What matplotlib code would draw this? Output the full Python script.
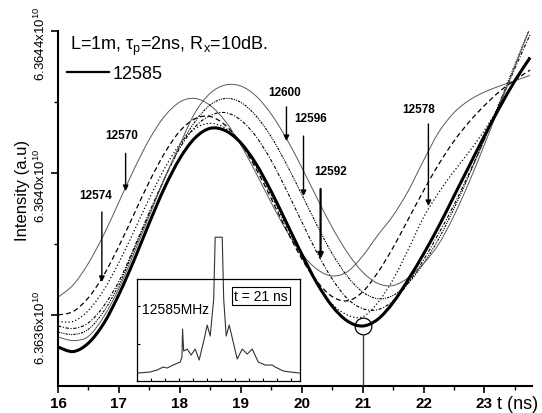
import matplotlib
matplotlib.use('Agg')
import matplotlib.pyplot as plt
from matplotlib.ticker import MultipleLocator, FixedLocator
from matplotlib.path import Path
from matplotlib.patches import PathPatch
from matplotlib.lines import Line2D
from matplotlib.transforms import ScaledTranslation

plt.rcParams['font.family'] = 'Liberation Sans'
plt.rcParams['mathtext.fontset'] = 'custom'
plt.rcParams['mathtext.rm'] = 'Liberation Sans'
plt.rcParams['mathtext.it'] = 'Liberation Sans:italic'
plt.rcParams['mathtext.bf'] = 'Liberation Sans:bold'

# time axis (ns)
t_ns = [16.0, 16.25, 16.5, 16.75, 17.0, 17.25, 17.5, 17.75, 18.0, 18.25, 18.5, 18.75,
        19.0, 19.25, 19.5, 19.75, 20.0, 20.25, 20.5, 20.75, 21.0, 21.25, 21.5, 21.75,
        22.0, 22.25, 22.5, 22.75, 23.0, 23.25, 23.5, 23.75]

# intensity above 6.3634x10^10, in units of 10^6
i_12585 = [1.10, 0.97, 1.21, 1.76, 2.58, 3.55, 4.60, 5.59, 6.41, 6.99, 7.26, 7.19,
           6.85, 6.26, 5.48, 4.60, 3.72, 2.90, 2.25, 1.83, 1.69, 1.88, 2.35, 3.00,
           3.72, 4.50, 5.35, 6.20, 7.05, 7.85, 8.60, 9.25]
i_12570 = [2.50, 2.85, 3.46, 4.26, 5.18, 6.11, 6.95, 7.60, 8.00, 8.10, 7.90, 7.45,
           6.79, 6.00, 5.16, 4.38, 3.73, 3.29, 3.10, 3.22, 3.66, 4.25, 4.80, 5.50,
           6.35, 7.15, 7.70, 8.05, 8.28, 8.45, 8.60, 8.75]
i_12574 = [2.00, 2.10, 2.49, 3.12, 3.94, 4.85, 5.76, 6.56, 7.18, 7.53, 7.59, 7.34,
           6.84, 6.12, 5.28, 4.40, 3.59, 2.95, 2.52, 2.40, 2.65, 3.20, 3.90, 4.70,
           5.50, 6.25, 6.90, 7.44, 7.90, 8.30, 8.62, 8.90]
i_12578 = [1.82, 1.82, 2.13, 2.70, 3.48, 4.37, 5.29, 6.13, 6.81, 7.25, 7.40, 7.26,
           6.84, 6.19, 5.37, 4.49, 3.63, 2.87, 2.31, 2.00, 1.95, 2.35, 3.00, 3.85,
           4.75, 5.45, 6.05, 6.60, 7.20, 7.90, 8.60, 9.30]
i_12592 = [1.69, 1.62, 1.78, 2.25, 2.95, 3.90, 4.90, 5.85, 6.70, 7.30, 7.62, 7.70,
           7.49, 7.03, 6.35, 5.52, 4.63, 3.76, 3.02, 2.46, 2.18, 2.15, 2.40, 2.90,
           3.55, 4.30, 5.10, 6.00, 6.95, 7.95, 8.95, 9.90]
i_12596 = [1.52, 1.45, 1.60, 2.10, 2.85, 3.85, 4.85, 5.85, 6.75, 7.45, 7.92, 8.10,
           7.99, 7.61, 7.02, 6.25, 5.40, 4.53, 3.73, 3.09, 2.65, 2.46, 2.55, 2.90,
           3.45, 4.15, 5.00, 5.95, 6.95, 8.00, 9.05, 10.10]
i_12600 = [1.38, 1.28, 1.40, 1.95, 2.75, 3.75, 4.80, 5.85, 6.80, 7.70, 8.25, 8.48,
           8.45, 8.17, 7.66, 6.97, 6.16, 5.30, 4.47, 3.76, 3.21, 2.89, 2.83, 3.05,
           3.45, 4.00, 4.80, 5.75, 6.80, 7.90, 9.00, 10.10]

# arrow labels
arrow_labels = ['12570', '12574', '12600', '12596', '12592', '12578']
label_x = [17.05, 16.62, 19.72, 20.15, 20.48, 21.92]
label_y = [7.07, 5.38, 8.28, 7.55, 6.06, 7.80]
arrow_x = [17.11, 16.72, 19.75, 20.03, 20.31, 22.08]
arrow_tail = [6.55, 4.90, 7.86, 7.04, 5.55, 7.38]
arrow_tip = [5.49, 2.93, 6.90, 5.35, 3.58, 5.07]

# y ticks
ytick_pos = [2, 6, 10]
ytick_lab = ['6.3636x10$^{10}$', '6.3640x10$^{10}$', '6.3644x10$^{10}$']

# inset spectrum at t = 21 ns (arbitrary units)
spec_f = [1, 13, 20, 26, 30, 36, 43, 44.8, 45.4, 46.5, 50, 54, 58, 62, 67, 70, 73,
          76.5, 78, 85, 86.5, 89, 92, 96, 100, 105, 110, 115, 121, 128, 135, 138, 146, 153, 162]
spec_p = [8, 9, 11, 14, 13, 16, 19, 24, 52, 30, 32, 26, 32, 21, 42, 56, 45,
          82, 144, 144, 82, 45, 56, 39, 22, 32, 27, 32, 19, 16, 16, 14, 10, 9, 8]

t_mark = 21.0


def smooth_path(x, y):
    # cubic Bezier through the points (Catmull-Rom tangents)
    n = len(x)
    verts = [(x[0], y[0])]
    codes = [Path.MOVETO]
    for i in range(n - 1):
        a = max(i - 1, 0)
        d = min(i + 2, n - 1)
        c1 = (x[i] + (x[i + 1] - x[a]) / 6, y[i] + (y[i + 1] - y[a]) / 6)
        c2 = (x[i + 1] - (x[d] - x[i]) / 6, y[i + 1] - (y[d] - y[i]) / 6)
        verts += [c1, c2, (x[i + 1], y[i + 1])]
        codes += [Path.CURVE4] * 3
    return Path(verts, codes)


fig = plt.figure(figsize=(5.42, 4.14), dpi=100)
ax = fig.add_axes([0.107, 0.0652, 0.8745, 0.8575])

styles = [
    (i_12570, dict(edgecolor='0.35', lw=0.7, ls='-')),
    (i_12574, dict(edgecolor='black', lw=0.9, ls=(0, (4, 2.5)))),
    (i_12578, dict(edgecolor='black', lw=0.9, ls=(0, (1, 1.8)))),
    (i_12592, dict(edgecolor='black', lw=0.8, ls=(0, (3, 1.5, 1, 1.5)))),
    (i_12596, dict(edgecolor='black', lw=0.8, ls=(0, (2, 1, 1, 1, 1, 1)))),
    (i_12600, dict(edgecolor='0.35', lw=0.7, ls='-')),
    (i_12585, dict(edgecolor='black', lw=2.2, ls='-', zorder=5)),
]
for vals, kw in styles:
    ax.add_patch(PathPatch(smooth_path(t_ns, vals), fill=False, **kw))

for name, lx, ly, axx, ya, yb in zip(arrow_labels, label_x, label_y, arrow_x, arrow_tail, arrow_tip):
    ax.text(lx, ly, name, ha='center', va='center', fontsize=8.5, fontweight='bold')
    w = 1.6 if name == '12592' else 1.0
    ax.annotate('', xy=(axx, yb), xytext=(axx, ya),
                arrowprops=dict(arrowstyle='-|>', lw=w, color='black',
                                mutation_scale=8, shrinkA=0, shrinkB=0))

# circle at t = 21 ns on 12585 and drop line
y_mark = i_12585[t_ns.index(t_mark)]
ax.plot(t_mark, y_mark, 'o', ms=12, mfc='none', mec='black', mew=0.9, zorder=6)
ax.plot([t_mark, t_mark], [0, y_mark - 0.23], color='0.25', lw=1.0, zorder=6)

ax.set_xlim(16, 23.78)
ax.set_ylim(0, 10)
ax.set_xticks(range(16, 24))
ax.set_xticklabels([str(v) for v in range(16, 24)], fontsize=11, fontweight='bold')
ax.xaxis.set_minor_locator(MultipleLocator(0.5))
ax.set_yticks(ytick_pos)
ax.set_yticklabels(ytick_lab, rotation=90, va='center', fontsize=9.5)
ax.yaxis.set_minor_locator(FixedLocator([4, 8]))
ax.tick_params(which='major', direction='out', length=5, width=1.2, pad=2)
ax.tick_params(which='minor', direction='out', length=3, width=1.0)
shift = ScaledTranslation(0, -0.12, fig.dpi_scale_trans)
for lab in ax.get_yticklabels():
    lab.set_transform(lab.get_transform() + shift)
for s in ['top', 'right']:
    ax.spines[s].set_visible(False)
for s in ['left', 'bottom']:
    ax.spines[s].set_linewidth(1.5)

ax.set_ylabel('Intensity (a.u)', fontsize=12)
ax.yaxis.set_label_coords(-0.06, 0.555)
ax.text(0.926, -0.05, 't (ns)', transform=ax.transAxes, ha='left', va='center', fontsize=13)
ax.text(0.025, 0.949, 'L=1m, τ$_\\mathrm{p}$=2ns, R$_\\mathrm{x}$=10dB.', transform=ax.transAxes,
        ha='left', va='baseline', fontsize=13)
proxy = Line2D([], [], color='black', lw=1.6)
ax.legend([proxy], ['12585'], loc='center left', bbox_to_anchor=(0.02, 0.879), frameon=False,
          fontsize=13, handlelength=2.3, handletextpad=0.2, borderpad=0, borderaxespad=0)

# inset spectrum
axins = fig.add_axes([0.253, 0.0773, 0.301, 0.246])
axins.plot(spec_f, spec_p, color='0.2', lw=0.8, clip_on=False)
axins.set_xlim(0, 163)
axins.set_ylim(0, 102)
axins.set_yticks([37, 75])
axins.set_xticks(range(0, 163, 14))
axins.tick_params(direction='in', length=2, labelleft=False, labelbottom=False, width=0.8)
for s in axins.spines.values():
    s.set_linewidth(0.9)
axins.text(5, 72, '12585MHz', fontsize=10, ha='left', va='center')
axins.text(124, 85, 't = 21 ns', fontsize=10, ha='center', va='center',
           bbox=dict(boxstyle='square,pad=0.15', fc='white', ec='black', lw=0.8))

fig.savefig('out.png', dpi=100)
